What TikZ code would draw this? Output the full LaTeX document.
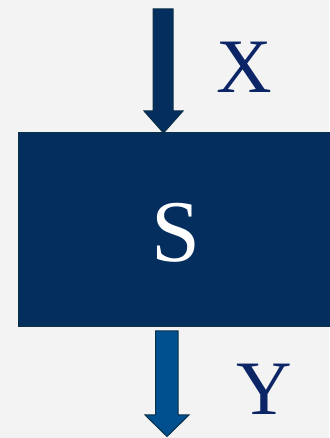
\documentclass[tikz,border=0pt]{standalone}
\usepackage{fontspec}
\setmainfont{Liberation Serif}
\definecolor{bg}{HTML}{F3F3F3}
\definecolor{navy}{HTML}{032E5E}
\definecolor{navyedge}{HTML}{0B3048}
\definecolor{midblue}{HTML}{00508F}
\definecolor{labelblue}{HTML}{0C2566}
\begin{document}
\begin{tikzpicture}[x=1pt,y=1pt,
  blockarrow/.style={line width=1pt, draw=navyedge, line join=miter},
  lbl/.style={inner sep=0pt, anchor=base, text=labelblue, font=\fontsize{77}{77}\selectfont}]
\fill[bg] (0,0) rectangle (329,438);
\useasboundingbox (0,0) rectangle (329,438);
% system box
\node[draw=navyedge, fill=navy, line width=1pt, inner sep=0pt, minimum width=313pt, minimum height=194pt, anchor=south west] (box) at (17.5,110.5) {};
\node[inner sep=0pt, anchor=base, text=white, font=\fontsize{88}{88}\selectfont] (s) at (175.5,176) {S};
% input arrow
\coordinate (intip) at (163.5,305);
\fill[navy, blockarrow] (153,429) -- (173,429) -- (173,327) -- (183,327) -- (intip) -- (144,327) -- (153,327) -- cycle;
\node[lbl] (x) at (244.5,345) {X};
% output arrow
\coordinate (outtip) at (167,1.5);
\fill[midblue, blockarrow] (155.5,107) -- (178,107) -- (178,23) -- (189,23) -- (outtip) -- (145,23) -- (155.5,23) -- cycle;
\node[lbl] (y) at (264,23) {Y};
\end{tikzpicture}
\end{document}
